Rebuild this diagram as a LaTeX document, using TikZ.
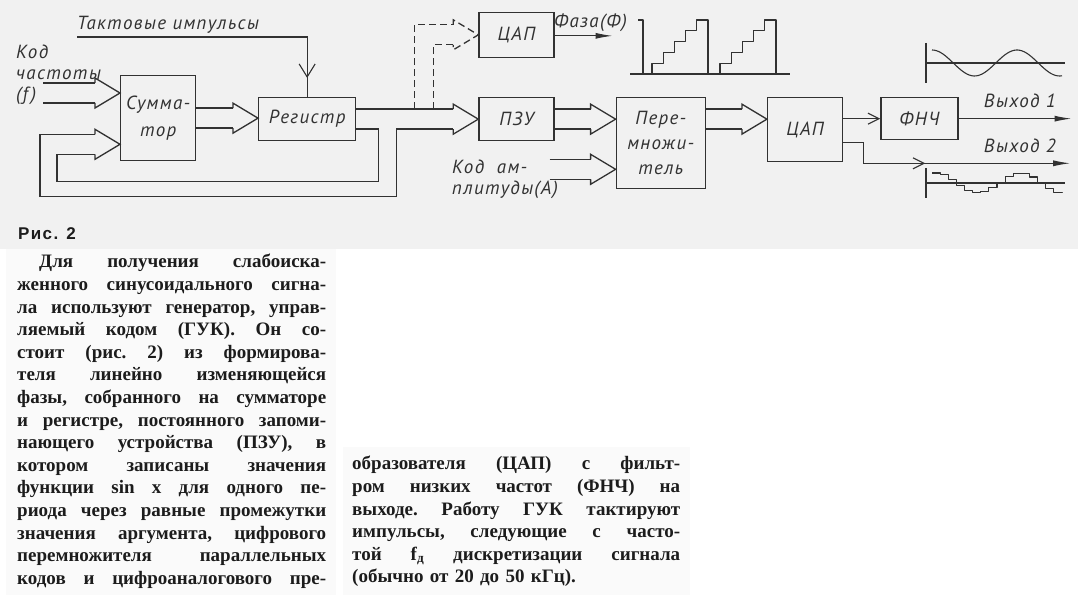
\documentclass[tikz,border=0pt]{standalone}
\usepackage{fontspec}
\setmainfont{Liberation Serif}
\newfontfamily\schemefont[LetterSpace=7]{PT Sans}
\newfontfamily\figfont[LetterSpace=8]{Liberation Sans}
\usepackage{tikz}
\usetikzlibrary{positioning, calc, arrows.meta}
\definecolor{schemeink}{RGB}{50,50,50}
\definecolor{schemepaper}{RGB}{241,241,241}
\definecolor{pagepaper}{RGB}{250,250,250}
\definecolor{printink}{RGB}{28,28,28}
\newcommand{\fullline}[1]{\makebox[\hsize][s]{\spaceskip=0pt\xspaceskip=0pt #1}}

\begin{document}
\begin{tikzpicture}[
  x=1pt, y=-1pt,
  block/.style={
    draw=schemeink, line width=1.3pt, inner sep=0pt, align=center,
    font=\schemefont\itshape\fontsize{19}{27}\selectfont, text=schemeink
  },
  lbl/.style={inner sep=0pt, font=\schemefont\itshape\fontsize{19}{21}\selectfont, text=schemeink},
  figlbl/.style={inner sep=0pt, font=\figfont\bfseries\fontsize{17}{18}\selectfont, text=printink},
  bodytext/.style={inner sep=0pt, align=left, font=\frenchspacing\bfseries\fontsize{19}{22.6}\selectfont, text=printink},
  bus/.style={draw=schemeink, line width=1.3pt, line join=miter},
  dashbus/.style={dash pattern=on 7pt off 4pt},
  sig/.style={draw=schemeink, line width=1.1pt},
  wave/.style={draw=schemeink, line width=1.1pt, line join=round},
  bigv/.style={-{Straight Barb[length=13pt, width=16pt]}},
  smallv/.style={-{Straight Barb[length=11pt, width=11pt]}},
  fhead/.style={-{Latex[length=17pt, width=6pt]}},
  bushead/.pic={\draw[bus] (-25,-10) -- (-25,-15) -- (0,0) -- (-25,15) -- (-25,10);}
]
\useasboundingbox (0,0) rectangle (1078,601);
\fill[white] (0,0) rectangle (1078,601);
\fill[schemepaper] (0,0) rectangle (1078,249);
\fill[pagepaper] (6,249) rectangle (336,595);
\fill[pagepaper] (343,447) rectangle (690,595);

% Blocks
\node[block, minimum width=75pt, minimum height=85pt, anchor=north west] (sum) at (120,75) {Сумма-\\тор};
\node[block, minimum width=97pt, minimum height=43pt, anchor=north west] (reg) at (258,97) {Регистр};
\node[block, minimum width=75pt, minimum height=43pt, right=122pt of reg.north east, anchor=north west] (pzu) {ПЗУ};
\node[block, minimum width=89pt, minimum height=91pt, right=61pt of pzu.north east, anchor=north west,
      font=\schemefont\itshape\fontsize{19}{25}\selectfont] (mult) {Пере-\\множи-\\тель};
\node[block, minimum width=75pt, minimum height=64pt, right=61pt of mult.north east, anchor=north west] (dac) {ЦАП};
\node[block, minimum width=77pt, minimum height=42pt, right=37pt of dac.north east, anchor=north west] (lpf) {ФНЧ};
\node[block, minimum width=75pt, minimum height=45pt, above=39pt of pzu.north] (dacphase) {ЦАП};

% Labels
\node[lbl, anchor=base west] (clk) at (77,30) {Тактовые импульсы};
\node[lbl, align=left, anchor=north west] (fcode) at (16,45) {Код\\частоты\\(\textit{f})};
\node[lbl, align=left, anchor=north west] (acode) at (452,160) {Код\ \ ам-\\плитуды(А)};
\node[lbl, anchor=base west] (phase) at (554,28) {Фаза(Ф)};
\node[lbl, anchor=base east] (out1lbl) at (1056,108) {Выход 1};
\node[lbl, anchor=base east] (out2lbl) at (1056,153) {Выход 2};
\node[figlbl, anchor=base west] (fig) at (18,240) {Рис. 2};

% Bus arrows
\coordinate (fin) at ($(sum.north west)+(0,18)$);
\draw[bus] ($(fin)+(-77,-10)$) -- ($(fin)+(-25,-10)$);
\draw[bus] ($(fin)+(-77,10)$) -- ($(fin)+(-25,10)$);
\pic at (fin) {bushead};

\coordinate (rin) at (reg.west |- sum.east);
\draw[bus] ($(sum.east)+(0,-10)$) -- ($(rin)+(-25,-10)$);
\draw[bus] ($(sum.east)+(0,10)$) -- ($(rin)+(-25,10)$);
\pic at (rin) {bushead};

\draw[bus] ($(reg.east)+(0,-10)$) -- ($(pzu.west)+(-25,-10)$);
\pic at (pzu.west) {bushead};

% Feedback loops
\coordinate (fbk) at ($(sum.south west)+(0,-17)$);
\draw[bus] ($(reg.east)+(0,10)$) -- ++(22,0) |- ($(sum.south west)+(-63,20)$) |- ($(fbk)+(-25,10)$);
\draw[bus] ($(pzu.west)+(-25,10)$) -- ($(pzu.west)+(-82,10)$) |- ($(sum.south west)+(-80,35)$) |- ($(fbk)+(-25,-10)$);
\pic at (fbk) {bushead};

% Phase branch
\draw[bus, dashbus] ($(pzu.west)+(-64,-10)$) |- ($(dacphase.west)+(-25,-10)$);
\draw[bus, dashbus] ($(pzu.west)+(-45,-10)$) |- ($(dacphase.west)+(-25,10)$);
\pic[dashbus] at (dacphase.west) {bushead};

\coordinate (min) at (mult.west |- pzu.east);
\draw[bus] ($(pzu.east)+(0,-10)$) -- ($(min)+(-25,-10)$);
\draw[bus] ($(pzu.east)+(0,10)$) -- ($(min)+(-25,10)$);
\pic at (min) {bushead};

\coordinate (ain) at ($(mult.south west)+(0,-20)$);
\draw[bus] ($(ain)+(-66,-10)$) -- ($(ain)+(-25,-10)$);
\draw[bus] ($(ain)+(-66,10)$) -- ($(ain)+(-25,10)$);
\pic at (ain) {bushead};

\coordinate (din) at (dac.west |- pzu.east);
\draw[bus] ($(mult.east |- din)+(0,-10)$) -- ($(din)+(-25,-10)$);
\draw[bus] ($(mult.east |- din)+(0,10)$) -- ($(din)+(-25,10)$);
\pic at (din) {bushead};

% Signal lines
\draw[sig] ($(clk.base west)+(0,7)$) -| (reg.north);
\draw[sig, bigv] ($(reg.north)+(0,-40)$) -- ($(reg.north)+(0,-19)$);

\coordinate (phaseout) at ($(dacphase.east)+(58,1)$);
\draw[sig, fhead] (dacphase.east |- phaseout) -- (phaseout);

\draw[sig, smallv] (lpf.west -| dac.east) -- (lpf.west);
\coordinate (out1) at ($(lpf.east)+(113,0)$);
\draw[sig, fhead] (lpf.east) -- (out1);

\coordinate (out2) at ($(dac.south east)+(227,1)$);
\draw[sig, fhead] ($(dac.south east)+(0,-20)$) -- ++(20,0) |- (out2);
\draw[sig, smallv] ($(out2)+(-165,0)$) -- ($(out2)+(-145,0)$);

% Phase staircase
\draw[wave] (638,20) -- (643,20) -- (643,74);
\draw[wave] (630,74) -- (790,74);
\foreach \s in {652,720}
  \draw[wave] (\s,74) foreach \k in {1,...,5} { -- ++(0,-10.8) -- ++(11.2,0) } -- ++(0,54);

% Output waveforms
\draw[wave] (926,43) -- (926,83);
\draw[wave] (926,63) -- (1065,63);
\draw[wave] plot[domain=932:1062, samples=60, smooth] (\x, {63-13*cos((\x-932)/85*360)});
\draw[wave] (926,168) -- (926,198);
\draw[wave] (926,183) -- (1065,183);
\draw[wave] plot[domain=932:1062, samples=17, const plot] (\x, {183-10*cos((\x-932)/85*360)});

% Text columns
\node[bodytext, text width=309pt, anchor=north west] (col1) at (17,254) {%
\fullline{\hspace*{22pt}Для получения слабоиска-}\\
\fullline{женного синусоидального сигна-}\\
\fullline{ла используют генератор, управ-}\\
\fullline{ляемый кодом (ГУК). Он со-}\\
\fullline{стоит (рис. 2) из формирова-}\\
\fullline{теля линейно изменяющейся}\\
\fullline{фазы, собранного на сумматоре}\\
\fullline{и регистре, постоянного запоми-}\\
\fullline{нающего устройства (ПЗУ), в}\\
\fullline{котором записаны значения}\\
\fullline{функции sin x для одного пе-}\\
\fullline{риода через равные промежутки}\\
\fullline{значения аргумента, цифрового}\\
\fullline{перемножителя параллельных}\\
\fullline{кодов и цифроаналогового пре-}};
\node[bodytext, text width=328pt, anchor=north west] (col2) at (352,456) {%
\fullline{образователя (ЦАП) с фильт-}\\
\fullline{ром низких частот (ФНЧ) на}\\
\fullline{выходе. Работу ГУК тактируют}\\
\fullline{импульсы, следующие с часто-}\\
\fullline{той f\textsubscript{д} дискретизации сигнала}\\
(обычно от 20 до 50 кГц).};
\end{tikzpicture}
\end{document}
